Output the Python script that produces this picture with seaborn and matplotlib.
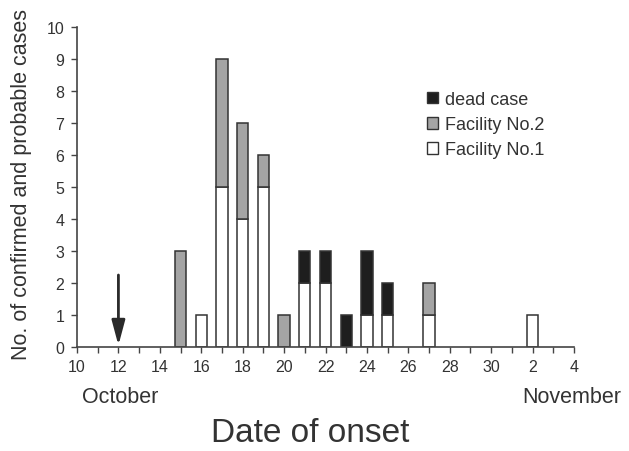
import matplotlib
matplotlib.use("Agg")
import matplotlib.pyplot as plt
from matplotlib.patches import Patch
import seaborn as sns
import pandas as pd

# ---- data -------------------------------------------------------------
# Axis dates as printed on the original chart (Oct 10-30, then Nov 1-4)
axis_dates = [f"Oct {d}" for d in range(10, 31)] + [f"Nov {d}" for d in range(1, 5)]
axis_labels = [str(d) for d in range(10, 31)] + [str(d) for d in range(1, 5)]

onset_dates = ["Oct 15", "Oct 16", "Oct 17", "Oct 18", "Oct 19", "Oct 20", "Oct 21",
               "Oct 22", "Oct 23", "Oct 24", "Oct 25", "Oct 27", "Nov 2"]
facility1 = [0, 1, 5, 4, 5, 0, 2, 2, 0, 1, 1, 1, 1]
facility2 = [3, 0, 4, 3, 1, 1, 0, 0, 0, 0, 0, 1, 0]
dead_case = [0, 0, 0, 0, 0, 0, 1, 1, 1, 2, 1, 0, 0]
arrow_date = "Oct 12"
arrow_top = 2.25

series_names = ["dead case", "Facility No.2", "Facility No.1"]
series_colors = ["#1e1e1e", "#a4a4a4", "#ffffff"]

rows = []
for name, vals in zip(series_names, [dead_case, facility2, facility1]):
    for d, v in zip(onset_dates, vals):
        rows.append({"pos": axis_dates.index(d), "group": name, "count": v})
df = pd.DataFrame(rows)

# ---- style ------------------------------------------------------------
sns.set_style("ticks")
plt.rcParams["font.family"] = ["Liberation Sans", "DejaVu Sans"]
txt = "#333333"
axc = "#444444"

fig = plt.figure(figsize=(6.29, 4.52), dpi=100)
ax = fig.add_axes([77 / 629, 1 - 348 / 452, (574 - 77) / 629, (348 - 28) / 452])

sns.histplot(data=df, x="pos", weights="count", hue="group", hue_order=series_names,
             multiple="stack", discrete=True, shrink=0.55,
             palette=dict(zip(series_names, series_colors)),
             edgecolor="#333333", linewidth=1.1, alpha=1, legend=False, ax=ax)

for p in list(ax.patches):
    if p.get_height() == 0:
        p.remove()

ax.set_xlim(0, len(axis_dates) - 1)
ax.set_ylim(0, 10)
ax.set_yticks(range(0, 11))
ax.set_xticks(range(len(axis_dates)))
ax.set_xticklabels([l if i % 2 == 0 else "" for i, l in enumerate(axis_labels)])
ax.set_xlabel("")
ax.set_ylabel("")
ax.tick_params(axis="both", direction="out", length=4, width=1, color=axc,
               labelsize=11.5, labelcolor=txt, pad=5)
for s in ["top", "right"]:
    ax.spines[s].set_visible(False)
for s in ["left", "bottom"]:
    ax.spines[s].set_color(axc)
    ax.spines[s].set_linewidth(1.2)

# arrow
ax.annotate("", xy=(axis_dates.index(arrow_date), 0.05),
            xytext=(axis_dates.index(arrow_date), arrow_top),
            arrowprops=dict(arrowstyle="-|>,head_length=0.75,head_width=0.2",
                            color="#2a2a2a", lw=2.0, mutation_scale=20,
                            shrinkA=0, shrinkB=0))

# legend
handles = [Patch(facecolor=c, edgecolor="#333333", linewidth=1) for c in series_colors]
fig.legend(handles, series_names, loc="upper left", bbox_to_anchor=(418 / 629, 1 - 83 / 452),
           frameon=False, fontsize=13, handlelength=0.6, handleheight=0.6,
           handletextpad=0.4, labelspacing=0.45, borderpad=0, labelcolor=txt)

# texts
fig.text(22 / 629, 1 - 185 / 452, "No. of confirmed and probable cases", rotation=90,
         ha="center", va="center", fontsize=15.5, color=txt)
fig.text(120 / 629, 1 - 398 / 452, "October", ha="center", va="center", fontsize=15.5, color=txt)
fig.text(572 / 629, 1 - 398 / 452, "November", ha="center", va="center", fontsize=15.5, color=txt)
fig.text(310 / 629, 1 - 434 / 452, "Date of onset", ha="center", va="center", fontsize=24, color=txt)

fig.savefig("out.png", dpi=100, facecolor="white")
